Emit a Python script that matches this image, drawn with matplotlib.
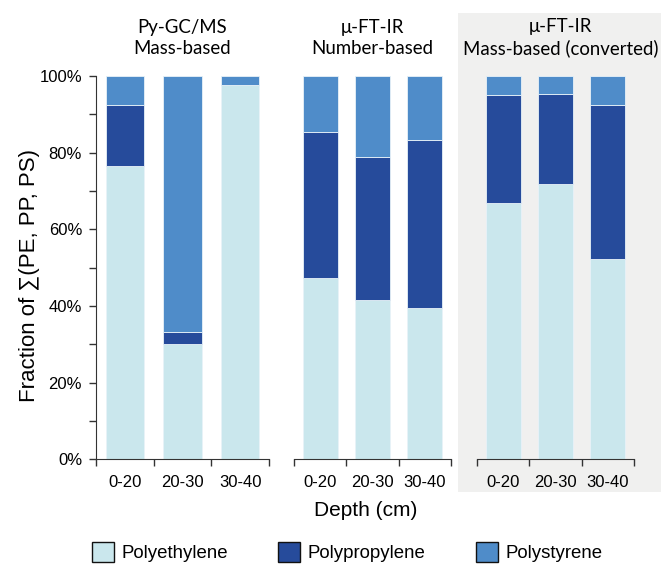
import matplotlib
matplotlib.use('Agg')
import matplotlib.pyplot as plt
from matplotlib.patches import Rectangle, Patch
import numpy as np

# Depth intervals and polymer fractions (%) for each method
depths = ['0-20', '20-30', '30-40']
titles = ['Py-GC/MS\nMass-based', 'μ-FT-IR\nNumber-based', 'μ-FT-IR\nMass-based (converted)']
polymers = ['Polyethylene', 'Polypropylene', 'Polystyrene']

pe = [[76.6, 30.0, 97.7],
      [47.2, 41.6, 39.6],
      [66.9, 71.8, 52.2]]
pp = [[15.8, 3.2, 0.0],
      [38.3, 37.3, 43.8],
      [28.1, 23.5, 40.2]]
ps = [[7.6, 66.8, 2.3],
      [14.5, 21.1, 16.6],
      [5.0, 4.7, 7.6]]

colors = ['#cae7ed', '#264b9b', '#4f8cc9']

W, H = 661, 564
fig = plt.figure(figsize=(W / 100, H / 100), dpi=100)

# shaded box behind the converted panel
fig.patches.append(Rectangle((458 / W, 1 - 492 / H), (661 - 458) / W, (492 - 13) / H,
                             transform=fig.transFigure, facecolor='#f0f0ef',
                             edgecolor='none', zorder=-5))

# panel extents in pixels (left, right)
panels = [(96, 269), (294, 451), (477, 634)]
title_x = [0.5, 0.5, 0.532]
ybot, ytop = 459.3, 76

tick_font = 'Liberation Sans'
title_font = 'Lato'

axes = []
for i, (x0, x1) in enumerate(panels):
    ax = fig.add_axes([x0 / W, 1 - ybot / H, (x1 - x0) / W, (ybot - ytop) / H])
    ax.set_facecolor('none')
    x = np.arange(len(depths))
    bottom = np.zeros(len(depths))
    for vals, c in zip([pe[i], pp[i], ps[i]], colors):
        ax.bar(x, vals, 0.67, bottom=bottom, color=c, edgecolor='#e8f2f8',
               linewidth=0.6)
        bottom += np.array(vals)
    ax.set_xlim(-0.5, 2.5)
    ax.set_ylim(0, 100)
    ax.set_xticks([-0.5, 0.5, 1.5, 2.5])
    ax.set_xticklabels([])
    ax.set_xticks(x, minor=True)
    ax.set_xticklabels(depths, minor=True, fontsize=12, family=tick_font)
    ax.tick_params(axis='x', which='major', length=5, width=1, color='#333333', direction='out')
    ax.tick_params(axis='x', which='minor', length=0, pad=11)
    for s in ['top', 'right']:
        ax.spines[s].set_visible(False)
    ax.spines['bottom'].set_color('#333333')
    if i == 0:
        ax.spines['left'].set_color('#333333')
        ax.set_yticks(np.arange(0, 101, 20))
        ax.set_yticklabels(['%d%%' % v for v in range(0, 101, 20)], fontsize=12, family=tick_font)
        ax.set_yticks(np.arange(10, 100, 20), minor=True)
        ax.tick_params(axis='y', which='both', length=5, width=1, color='#333333', direction='out')
        ax.tick_params(axis='y', which='major', pad=5)
    else:
        ax.spines['left'].set_visible(False)
        ax.set_yticks([])
    ax.set_title(titles[i], fontsize=13.4, family=title_font, pad=16, linespacing=1.25,
                 x=title_x[i])
    axes.append(ax)

fig.text(30 / W, 1 - 276 / H, 'Fraction of ∑(PE, PP, PS)', rotation=90, ha='center',
         va='center', fontsize=16, family=['Liberation Sans', 'DejaVu Sans'])
fig.text(366 / W, 1 - 511 / H, 'Depth (cm)', ha='center', va='center', fontsize=15,
         family=tick_font)

handles = [Patch(facecolor=c, edgecolor='#111111', linewidth=1) for c in colors]
fig.legend(handles, polymers, loc='center', bbox_to_anchor=(347 / W, 1 - 552 / H),
           ncol=3, frameon=False, prop={'family': tick_font, 'size': 13.4},
           handlelength=1.18, handleheight=1.3, handletextpad=0.4, columnspacing=2.7)

fig.savefig('out.png', dpi=100)
